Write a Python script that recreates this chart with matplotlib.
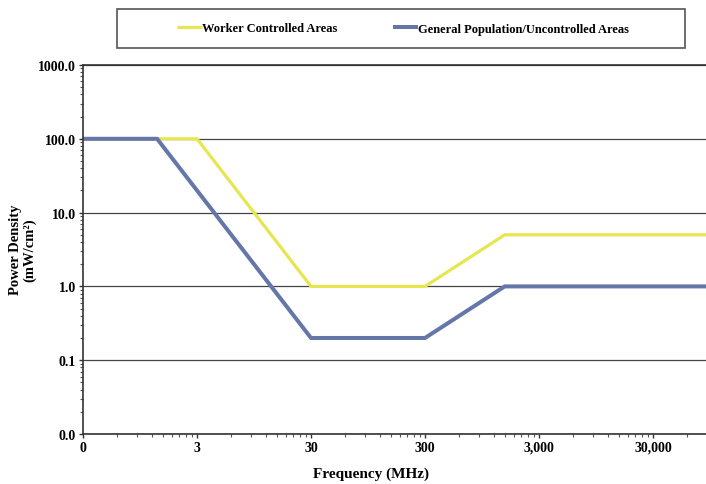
import matplotlib.pyplot as plt
from matplotlib.patches import Rectangle
from matplotlib.ticker import FixedLocator, NullFormatter

# FCC MPE limits (MHz vs mW/cm2)
freq_worker = [0.3, 3, 30, 300, 1500, 100000]
pd_worker = [100, 100, 1, 1, 5, 5]
freq_general = [0.3, 1.34, 30, 300, 1500, 100000]
pd_general = [100, 100, 0.2, 0.2, 1, 1]

x_ticks = [0.3, 3, 30, 300, 3000, 30000]
x_labels = ['0', '3', '30', '300', '3,000', '30,000']
y_ticks = [0.01, 0.1, 1, 10, 100, 1000]
y_labels = ['0.0', '0.1', '1.0', '10.0', '100.0', '1000.0']

plt.rcParams['font.family'] = ['Liberation Serif', 'DejaVu Serif']
plt.rcParams['font.weight'] = 'bold'

W, H = 706, 485
fig = plt.figure(figsize=(W / 100, H / 100), dpi=100)
ax = fig.add_axes([83 / W, 1 - 435 / H, 684 / W, 369 / H])

yellow = '#e6e650'
blue = '#6577a8'
ax.plot(freq_worker, pd_worker, color=yellow, lw=2.3, solid_capstyle='butt',
        label='Worker Controlled Areas')
ax.plot(freq_general, pd_general, color=blue, lw=2.9, solid_capstyle='butt',
        label='General Population/Uncontrolled Areas')

ax.set_xscale('log')
ax.set_yscale('log')
ax.set_xlim(0.3, 300000)
ax.set_ylim(0.01, 1000)

ax.xaxis.set_major_locator(FixedLocator(x_ticks))
ax.set_xticklabels(x_labels)
minor_x = [x * k for x in x_ticks for k in range(2, 10)]
ax.xaxis.set_minor_locator(FixedLocator(minor_x))
ax.xaxis.set_minor_formatter(NullFormatter())

ax.yaxis.set_major_locator(FixedLocator(y_ticks))
ax.set_yticklabels(y_labels)
minor_y = [y * k for y in y_ticks[:-1] for k in range(2, 10)]
ax.yaxis.set_minor_locator(FixedLocator(minor_y))
ax.yaxis.set_minor_formatter(NullFormatter())

ax.tick_params(axis='both', which='major', direction='out', length=3, width=1,
               color='#333333', labelsize=10, pad=2)
ax.tick_params(axis='both', which='minor', direction='out', length=2, width=0.8,
               color='#555555')

ax.grid(axis='y', which='major', color='#444444', lw=0.9)
for side in ['top', 'left', 'bottom']:
    ax.spines[side].set_color('#333333')
    ax.spines[side].set_linewidth(1.2)
ax.spines['right'].set_visible(False)

fig.text(23 / W, 1 - 250 / H, 'Power Density\n(mW/cm²)', rotation=90,
         ha='center', va='center', fontsize=10.5, fontweight='bold', linespacing=1.1)
fig.text(371 / W, 1 - 474 / H, 'Frequency (MHz)', ha='center', va='center',
         fontsize=11, fontweight='bold')

# legend box
fig.patches.append(Rectangle((117 / W, 1 - 49 / H), 568 / W, 39.5 / H,
                             transform=fig.transFigure, fill=False,
                             edgecolor='#555555', lw=1.2))
fig.legend(loc='center', bbox_to_anchor=(403 / W, 1 - 29.5 / H), ncol=2,
           frameon=False, fontsize=9, handlelength=2.0, handletextpad=0.0,
           columnspacing=4.5, borderpad=0)

fig.savefig('out.png', dpi=100)
